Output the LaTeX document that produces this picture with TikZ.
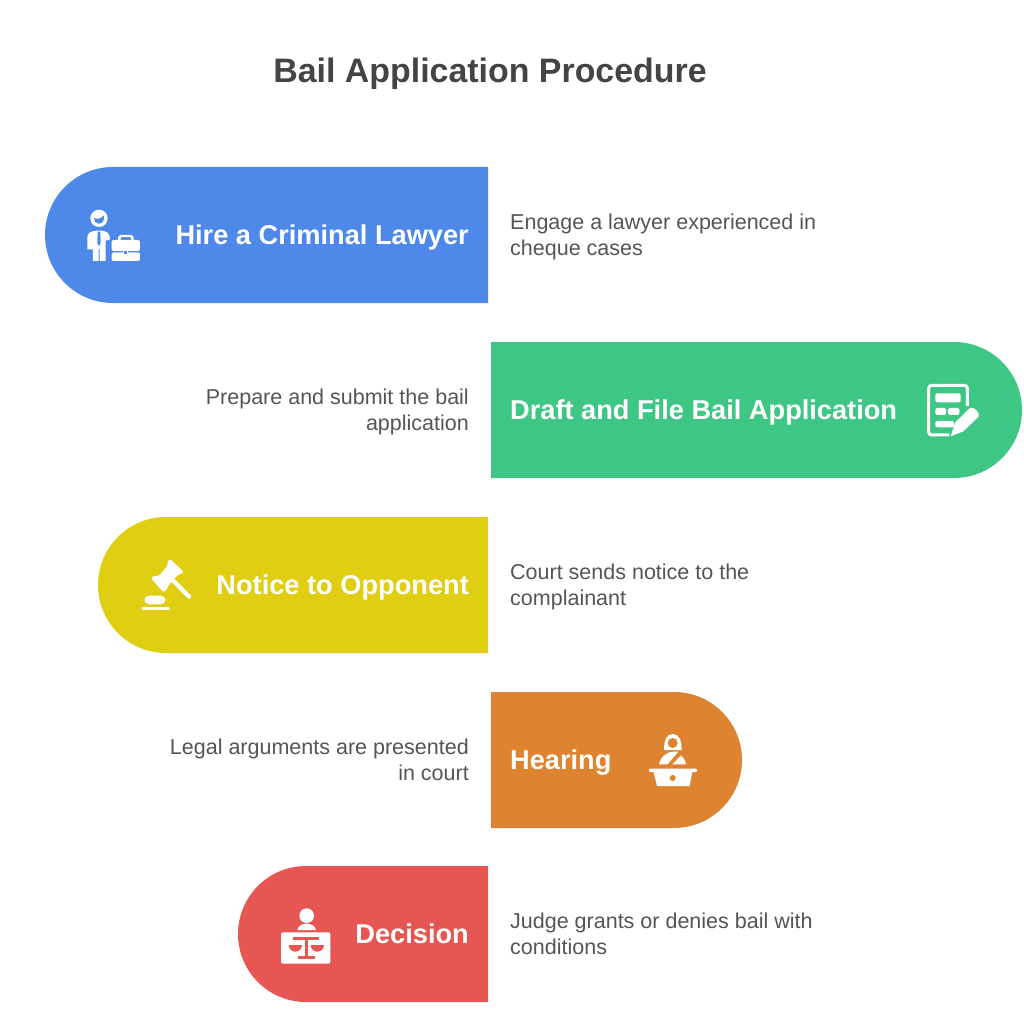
\documentclass[tikz,border=0pt]{standalone}
\usepackage{fontspec}
\setmainfont{Liberation Sans}
\definecolor{cblue}{HTML}{4E88E8}
\definecolor{cgreen}{HTML}{3EC685}
\definecolor{cyellow}{HTML}{E0CE12}
\definecolor{corange}{HTML}{DE8330}
\definecolor{cred}{HTML}{E65753}
\definecolor{ctitle}{HTML}{444444}
\definecolor{cbody}{HTML}{555555}
\tikzset{
  steplabel/.style={text=white,font=\fontsize{27.2}{30}\selectfont\bfseries,inner sep=0pt,text height=20pt,text depth=5.7pt},
  bodyleft/.style={text=cbody,font=\fontsize{21.5}{26.5}\selectfont,align=left,anchor=west,inner sep=0pt},
  bodyright/.style={text=cbody,font=\fontsize{21.5}{26.5}\selectfont,align=right,anchor=east,inner sep=0pt},
  titlelabel/.style={text=ctitle,font=\fontsize{33.9}{36}\selectfont\bfseries,inner sep=0pt},
  ico/.style={shift={#1},x=0.3333pt,y=-0.3333pt}
}
\begin{document}
\begin{tikzpicture}[x=1pt,y=-1pt]
\useasboundingbox (0,0) rectangle (1024,1024);
\fill[white] (0,0) rectangle (1024,1024);
\node[titlelabel] (title) at (490,74) {Bail Application Procedure};
% bars
\fill[cblue] (488,167) -- (113,167) arc[start angle=90,end angle=270,x radius=68,y radius=-68] -- (488,303) -- cycle;
\fill[cgreen] (491,342) -- (954,342) arc[start angle=90,end angle=-90,x radius=68,y radius=-68] -- (491,478) -- cycle;
\fill[cyellow] (488,517) -- (166,517) arc[start angle=90,end angle=270,x radius=68,y radius=-68] -- (488,653) -- cycle;
\fill[corange] (491,692) -- (674,692) arc[start angle=90,end angle=-90,x radius=68,y radius=-68] -- (491,828) -- cycle;
\fill[cred] (488,866) -- (306,866) arc[start angle=90,end angle=270,x radius=68,y radius=-68] -- (488,1002) -- cycle;
% labels
\node[steplabel,anchor=east] (s1) at (469,237) {Hire a Criminal Lawyer};
\node[steplabel,anchor=west] (s2) at (510,412) {Draft and File Bail Application};
\node[steplabel,anchor=east] (s3) at (469,587) {Notice to Opponent};
\node[steplabel,anchor=west] (s4) at (510,762) {Hearing};
\node[steplabel,anchor=east] (s5) at (469,936) {Decision};
% descriptions
\node[bodyleft] (d1) at (510,237) {Engage a lawyer experienced in\\cheque cases};
\node[bodyright] (d2) at (469,412) {Prepare and submit the bail\\application};
\node[bodyleft] (d3) at (510,587) {Court sends notice to the\\complainant};
\node[bodyright] (d4) at (469,760) {Legal arguments are presented\\in court};
\node[bodyleft] (d5) at (510,934) {Judge grants or denies bail with\\conditions};
% icon 1: lawyer
\begin{scope}[ico={(60,190)}]
\fill[white] (117,85) circle[radius=26];
\fill[cblue] (102,84) .. controls (115,90) and (125,84) .. (131,76) .. controls (135,90) and (128,101) .. (116,101) .. controls (107,101) and (102,93) .. (102,84) -- cycle;
\fill[white] (82,142) .. controls (82,128) and (95,123) .. (110,122) -- (124,122) .. controls (140,123) and (150,130) .. (150,148) -- (137,152) -- (137,213) -- (119,213) -- (119,178) -- (116,178) -- (116,213) -- (99,213) -- (99,178) -- (82,178) -- cycle;
\fill[cblue] (113,125) -- (121,125) -- (122,160) -- (117,168) -- (112,160) -- cycle;
\fill[white,rounded corners=2pt] (155,150) rectangle (240,183);
\fill[white,rounded corners=2pt] (155,187) rectangle (240,213);
\draw[white,line width=2.4pt,rounded corners=1.5pt] (178,152) -- (178,138) -- (217,138) -- (217,152);
\fill[white] (190,180) rectangle (205,195);
\fill[cblue] (193,184) rectangle (202,192);
\end{scope}
% icon 2: form
\begin{scope}[ico={(910,370)}]
\draw[white,line width=3pt,rounded corners=3pt] (118,195) -- (56,195) -- (56,46) -- (172,46) -- (172,108);
\fill[white,rounded corners=1.5pt] (76,70) rectangle (152,97);
\fill[white,rounded corners=1.5pt] (76,114) rectangle (108,135);
\fill[white,rounded corners=1.5pt] (114,114) rectangle (148,135);
\fill[white,rounded corners=1.5pt] (76,153) rectangle (132,172);
\fill[white] (122,199) -- (136,157) -- (180,114) .. controls (190,108) and (212,128) .. (206,140) -- (160,184) -- cycle;
\end{scope}
% icon 3: gavel
\begin{scope}[ico={(125,545)}]
\fill[white,rounded corners=1.5pt] (78,100) -- (88,92) -- (100,94) -- (128,62) -- (127,50) -- (135,42) -- (176,80) -- (168,88) -- (160,88) -- (128,124) -- (127,132) -- (116,142) -- cycle;
\draw[white,line width=4.3pt,line cap=round] (146,108) -- (192,155);
\fill[white,rounded corners=5pt] (58,152) rectangle (122,178);
\draw[white,line width=3.5pt,line cap=round] (54,191) -- (130,191);
\end{scope}
% icon 4: judge
\begin{scope}[ico={(635,720)}]
\fill[white] (87,90) .. controls (87,60) and (95,42) .. (113,42) .. controls (132,42) and (140,60) .. (140,90) -- cycle;
\fill[corange] (113,69) circle[radius=15];
\fill[white] (72,133) .. controls (76,112) and (92,96) .. (116,95) -- (130,95) -- (98,133) -- cycle;
\fill[white] (112,133) -- (138,106) .. controls (146,112) and (151,122) .. (153,133) -- cycle;
\fill[white,rounded corners=1pt] (42,146) rectangle (186,156);
\fill[white] (56,155) -- (172,155) -- (164,198) -- (66,198) -- cycle;
\fill[corange] (113,174) circle[radius=9];
\end{scope}
% icon 5: judge desk with scales
\begin{scope}[ico={(270,895)}]
\fill[white] (110,62) circle[radius=22];
\fill[white] (82,105) .. controls (85,92) and (97,86) .. (110,86) .. controls (123,86) and (135,92) .. (138,105) -- cycle;
\fill[white,rounded corners=2pt] (33,112) rectangle (181,206);
\fill[cred] (68,127) rectangle (146,136);
\fill[cred] (105,127) rectangle (115,186);
\fill[cred] (85,182) rectangle (135,192);
\fill[cred] (56,150) arc[start angle=180,end angle=360,x radius=20,y radius=-20] -- cycle;
\fill[cred] (122,150) arc[start angle=180,end angle=360,x radius=20,y radius=-20] -- cycle;
\end{scope}
\end{tikzpicture}
\end{document}
